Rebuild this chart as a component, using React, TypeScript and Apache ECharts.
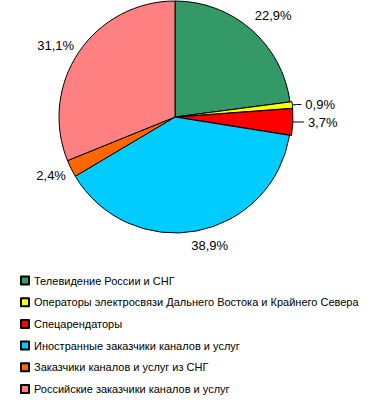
import React, { useEffect, useRef } from "react";
import * as echarts from "echarts";

const categories = [
  "Телевидение России и СНГ",
  "Операторы электросвязи Дальнего Востока и Крайнего Севера",
  "Спецарендаторы",
  "Иностранные заказчики каналов и услуг",
  "Заказчики каналов и услуг из СНГ",
  "Российские заказчики каналов и услуг",
];
const values = [22.9, 0.9, 3.7, 38.9, 2.4, 31.1];
const labels = ["22,9%", "0,9%", "3,7%", "38,9%", "2,4%", "31,1%"];
const colors = ["#339966", "#FFFF00", "#FF0000", "#00CCFF", "#FF6600", "#FF8080"];
const labelShift = [
  [-6, -8],
  [0, 0],
  [0, 0],
  [-11, 7],
  [6, 3],
  [6, -2],
];

export default function App() {
  const ref = useRef<HTMLDivElement>(null);
  useEffect(() => {
    const chart = echarts.init(ref.current!, null, { renderer: "svg" });
    const font = "'Liberation Sans', Arial, sans-serif";
    chart.setOption({
      animation: false,
      backgroundColor: "#ffffff",
      legend: {
        orient: "vertical",
        left: 15,
        top: 269,
        itemWidth: 8,
        itemHeight: 8,
        itemGap: 8.7,
        icon: "rect",
        selectedMode: false,
        textStyle: { fontFamily: font, fontSize: 11, color: "#000", lineHeight: 13 },
        data: categories,
      },
      series: [
        {
          type: "pie",
          center: [175, 117],
          radius: 116,
          startAngle: 90,
          clockwise: true,
          avoidLabelOverlap: false,
          selectedMode: "multiple",
          selectedOffset: 2,
          itemStyle: { borderColor: "#000", borderWidth: 1 },
          label: {
            show: true,
            position: "outside",
            fontFamily: font,
            fontSize: 13,
            color: "#000",
            distanceToLabelLine: 4,
            formatter: (p: any) => labels[p.dataIndex],
          },
          labelLine: {
            show: false,
            length: 8,
            length2: 0,
            lineStyle: { color: "#000", width: 1 },
          },
          labelLayout: (p: any) => {
            const s = labelShift[p.dataIndex];
            if (p.dataIndex === 1 || p.dataIndex === 2) return {};
            return { dx: s[0], dy: s[1] };
          },
          emphasis: { disabled: true },
          select: { disabled: false, itemStyle: { borderColor: "#000", borderWidth: 1 } },
          data: categories.map((name, i) => {
            const d: any = { name, value: values[i], itemStyle: { color: colors[i] } };
            if (i === 1) {
              d.labelLine = { show: true, length: 4, length2: 5 };
              d.selected = true;
              d.select = { itemStyle: { color: colors[i] } };
            }
            if (i === 2) {
              d.labelLine = { show: true, length: 0, length2: 11 };
              d.selected = true;
              d.select = { itemStyle: { color: colors[i] } };
            }
            return d;
          }),
        },
      ],
    });
    return () => chart.dispose();
  }, []);
  return (
    <div
      ref={ref}
      style={{ position: "fixed", left: 0, top: 0, width: 368, height: 408 }}
    />
  );
}
